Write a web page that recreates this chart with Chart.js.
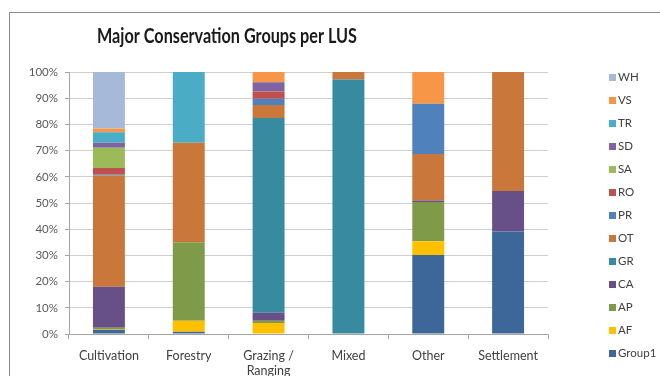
<!DOCTYPE html>
<html>
<head>
<meta charset="utf-8">
<script src="https://cdn.jsdelivr.net/npm/chart.js@4/dist/chart.umd.min.js"></script>
<style>
  html, body { margin: 0; padding: 0; background: #fff; overflow: hidden; }
  #wrap { width: 660px; height: 376px; position: relative; }
</style>
</head>
<body>
<div id="wrap"><canvas id="c" width="660" height="376"></canvas></div>
<script>
// Land use systems (x categories)
const landUses = ['Cultivation', 'Forestry', ['Grazing /', 'Ranging'], 'Mixed', 'Other', 'Settlement'];

// Share (%) of each conservation group per land use system
const group1 = [1.6, 0.9, 0.0, 0.0, 30.2, 39.1];
const af     = [0.3, 4.2, 4.2, 0.0, 5.2, 0.0];
const ap     = [0.5, 29.9, 0.9, 0.0, 15.0, 0.0];
const ca     = [15.6, 0.0, 3.0, 0.0, 0.6, 15.5];
const gr     = [0.0, 0.0, 74.3, 97.1, 0.0, 0.0];
const ot     = [42.6, 38.0, 5.0, 2.9, 17.7, 45.4];
const pr     = [0.4, 0.0, 2.4, 0.0, 19.2, 0.0];
const ro     = [2.4, 0.0, 2.8, 0.0, 0.0, 0.0];
const sa     = [7.7, 0.0, 0.0, 0.0, 0.0, 0.0];
const sd     = [1.9, 0.0, 3.5, 0.0, 0.0, 0.0];
const tr     = [4.0, 27.0, 0.0, 0.0, 0.0, 0.0];
const vs     = [1.4, 0.0, 3.9, 0.0, 12.1, 0.0];
const wh     = [21.6, 0.0, 0.0, 0.0, 0.0, 0.0];

// Group names, stacked bottom to top
const groupNames = ['Group1', 'AF', 'AP', 'CA', 'GR', 'OT', 'PR', 'RO', 'SA', 'SD', 'TR', 'VS', 'WH'];
const groupValues = [group1, af, ap, ca, gr, ot, pr, ro, sa, sd, tr, vs, wh];
const groupColors = ['#3D6799', '#FFC000', '#7F9A48', '#674F87', '#378A9F', '#C9773A',
                     '#4F81BD', '#C0504D', '#9BBB59', '#8064A2', '#4BACC6', '#F79646', '#A7B9D9'];

// Y axis tick values (%)
const yTicks = [0, 10, 20, 30, 40, 50, 60, 70, 80, 90, 100];

const FONT = 'Lato, "Open Sans", sans-serif';
const TITLE = 'Major Conservation Groups per LUS';

// Outer frame of the chart object
const framePlugin = {
  id: 'frame',
  beforeDraw(chart) {
    const ctx = chart.ctx;
    ctx.save();
    ctx.fillStyle = '#ffffff';
    ctx.fillRect(0, 0, chart.width, chart.height);
    ctx.strokeStyle = '#8C8C8C';
    ctx.lineWidth = 1;
    ctx.strokeRect(9.5, 12.5, 800, 500);
    ctx.restore();
  }
};

// Title placed over the left part of the plot, set in a condensed width
const titlePlugin = {
  id: 'sideTitle',
  afterDraw(chart) {
    const ctx = chart.ctx;
    ctx.save();
    ctx.font = 'bold 20px ' + FONT;
    ctx.fillStyle = '#1A1A1A';
    ctx.textAlign = 'left';
    ctx.textBaseline = 'middle';
    const w = ctx.measureText(TITLE).width;
    const sx = 260 / w;
    ctx.translate(97, 37);
    ctx.scale(sx, 1);
    ctx.fillText(TITLE, 0, 0);
    ctx.restore();
  }
};

// Legend listed top to bottom in reverse stacking order
const legendPlugin = {
  id: 'sideLegend',
  afterDraw(chart) {
    const ctx = chart.ctx;
    const sets = chart.data.datasets.slice().reverse();
    ctx.save();
    ctx.font = '11.5px ' + FONT;
    ctx.textAlign = 'left';
    ctx.textBaseline = 'middle';
    sets.forEach((ds, i) => {
      const y = 77 + i * 23;
      ctx.fillStyle = ds.backgroundColor;
      ctx.fillRect(609, Math.round(y - 3.5), 7, 7);
      ctx.fillStyle = '#404040';
      ctx.fillText(ds.label, 618, y + 0.5);
    });
    ctx.restore();
  }
};

new Chart(document.getElementById('c'), {
  type: 'bar',
  data: {
    labels: landUses,
    datasets: groupNames.map((name, i) => ({
      label: name,
      data: groupValues[i],
      backgroundColor: groupColors[i],
      borderWidth: 0,
      categoryPercentage: 1.0,
      barPercentage: 0.4
    }))
  },
  options: {
    responsive: false,
    animation: false,
    devicePixelRatio: 1,
    layout: { padding: { top: 72, right: 112, bottom: 0, left: 0 } },
    plugins: {
      legend: { display: false },
      title: { display: false },
      tooltip: { enabled: false }
    },
    scales: {
      x: {
        stacked: true,
        afterFit(scale) { scale.height = 42; },
        grid: {
          offset: true,
          drawOnChartArea: false,
          drawTicks: true,
          tickLength: 5,
          color: '#A6A6A6'
        },
        border: { color: '#A6A6A6', width: 1 },
        ticks: {
          color: '#404040',
          font: { family: FONT, size: 12.5 },
          padding: 9,
          maxRotation: 0,
          autoSkip: false
        }
      },
      y: {
        stacked: true,
        min: 0,
        max: 100,
        afterFit(scale) { scale.width = 69; },
        afterBuildTicks(scale) { scale.ticks = yTicks.map(v => ({ value: v })); },
        grid: {
          color: '#CFCFCF',
          lineWidth: 1,
          tickLength: 4,
          tickColor: '#A6A6A6'
        },
        border: { color: '#A6A6A6', width: 1 },
        ticks: {
          color: '#595959',
          font: { family: FONT, size: 11.5 },
          padding: 7,
          callback: v => v + '%'
        }
      }
    }
  },
  plugins: [framePlugin, titlePlugin, legendPlugin]
});
</script>
</body>
</html>
